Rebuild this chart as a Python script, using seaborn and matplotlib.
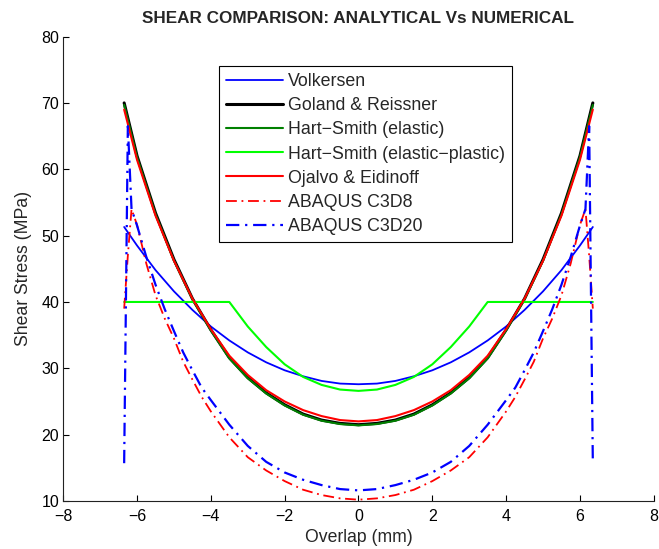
import numpy as np
import pandas as pd
import matplotlib
matplotlib.use("Agg")
import matplotlib.pyplot as plt
import seaborn as sns

# overlap positions (mm) for the analytical solutions
x_analytic = [-6.35, -6.0, -5.5, -5.0, -4.5, -4.0, -3.5, -3.0, -2.5, -2.0, -1.5, -1.0, -0.5,
              0.0, 0.5, 1.0, 1.5, 2.0, 2.5, 3.0, 3.5, 4.0, 4.5, 5.0, 5.5, 6.0, 6.35]

volkersen = [51.3, 48.5, 44.8, 41.6, 38.8, 36.3, 34.2, 32.4, 30.9, 29.7, 28.8, 28.1, 27.7,
             27.6, 27.7, 28.1, 28.8, 29.7, 30.9, 32.4, 34.2, 36.3, 38.8, 41.6, 44.8, 48.5, 51.3]
goland = [70.0, 62.0, 53.4, 46.4, 40.5, 35.8, 31.6, 28.6, 26.3, 24.5, 23.1, 22.2, 21.7,
          21.5, 21.7, 22.2, 23.1, 24.5, 26.3, 28.6, 31.6, 35.8, 40.5, 46.4, 53.4, 62.0, 70.0]
hart_elastic = [69.7, 61.8, 53.2, 46.2, 40.4, 35.7, 31.5, 28.5, 26.2, 24.4, 23.0, 22.1, 21.6,
                21.4, 21.6, 22.1, 23.0, 24.4, 26.2, 28.5, 31.5, 35.7, 40.4, 46.2, 53.2, 61.8, 69.7]
hart_plastic = [40.0, 40.0, 40.0, 40.0, 40.0, 40.0, 40.0, 36.3, 33.2, 30.6, 28.7, 27.5, 26.8,
                26.6, 26.8, 27.5, 28.7, 30.6, 33.2, 36.3, 40.0, 40.0, 40.0, 40.0, 40.0, 40.0, 40.0]
ojalvo = [69.0, 61.4, 53.0, 46.2, 40.5, 35.9, 31.9, 29.0, 26.7, 25.0, 23.7, 22.8, 22.2,
          22.0, 22.2, 22.8, 23.7, 25.0, 26.7, 29.0, 31.9, 35.9, 40.5, 46.2, 53.0, 61.4, 69.0]

# overlap positions (mm) for the FE results
x_fe = [-6.35, -6.25, -6.15, -6.0, -5.75, -5.5, -5.25, -5.0, -4.75, -4.5, -4.25, -4.0, -3.5,
        -3.0, -2.5, -2.0, -1.5, -1.0, -0.5, 0.0, 0.5, 1.0, 1.5, 2.0, 2.5, 3.0, 3.5, 4.0,
        4.25, 4.5, 4.75, 5.0, 5.25, 5.5, 5.75, 6.0, 6.15, 6.25, 6.35]
c3d8 = [39.0, 47.0, 54.0, 51.6, 45.8, 41.0, 37.5, 34.5, 31.0, 28.3, 25.7, 23.5, 19.6,
        16.6, 14.6, 13.0, 11.7, 10.9, 10.4, 10.2, 10.4, 10.9, 11.7, 13.0, 14.6, 16.6, 19.6, 23.5,
        25.7, 28.3, 31.0, 34.5, 37.5, 41.0, 45.8, 51.6, 54.0, 47.0, 39.0]
c3d20 = [15.7, 66.5, 54.0, 51.5, 46.8, 42.6, 38.9, 35.6, 32.4, 29.7, 27.1, 25.2, 21.5,
         18.3, 15.9, 14.3, 13.2, 12.4, 11.8, 11.6, 11.8, 12.4, 13.2, 14.3, 15.9, 18.3, 21.5, 25.2,
         27.1, 29.7, 32.4, 35.6, 38.9, 42.6, 46.8, 51.5, 54.0, 66.5, 15.7]

sns.set_style("ticks", {"xtick.direction": "in", "ytick.direction": "in"})
plt.rcParams["font.family"] = ["Liberation Sans", "DejaVu Sans"]

fig = plt.figure(figsize=(6.59, 5.49), dpi=100)
ax = fig.add_axes([0.096, 0.0874, 0.896, 0.846])

dashdot = (0, (6, 2.6, 1, 2.6))

sns.lineplot(x=x_analytic, y=volkersen, ax=ax, color="#0000ff", lw=1.3, sort=False,
             estimator=None, label="Volkersen")
sns.lineplot(x=x_analytic, y=goland, ax=ax, color="black", lw=2.2, sort=False,
             estimator=None, label="Goland & Reissner")
sns.lineplot(x=x_analytic, y=hart_elastic, ax=ax, color="#008000", lw=1.5, sort=False,
             estimator=None, label="Hart\u2212Smith (elastic)")
sns.lineplot(x=x_analytic, y=hart_plastic, ax=ax, color="#00ff00", lw=1.5, sort=False,
             estimator=None, label="Hart\u2212Smith (elastic\u2212plastic)")
sns.lineplot(x=x_analytic, y=ojalvo, ax=ax, color="#ff0000", lw=1.5, sort=False,
             estimator=None, label="Ojalvo & Eidinoff")
sns.lineplot(x=x_fe, y=c3d8, ax=ax, color="#ff0000", lw=1.3, sort=False,
             estimator=None, linestyle=dashdot, label="ABAQUS C3D8")
sns.lineplot(x=x_fe, y=c3d20, ax=ax, color="#0000ff", lw=1.6, sort=False,
             estimator=None, linestyle=dashdot, label="ABAQUS C3D20")

ax.set_xlim(-8, 8)
ax.set_ylim(10, 80)
ax.set_xticks(np.arange(-8, 9, 2))
ax.set_yticks(np.arange(10, 81, 10))
ax.tick_params(axis="both", labelsize=11.5, length=4, width=0.8, colors="black")
ax.tick_params(axis="x", pad=6)
ax.tick_params(axis="y", pad=3)
sns.despine(ax=ax)
for side in ["left", "bottom"]:
    ax.spines[side].set_color("#222222")
    ax.spines[side].set_linewidth(0.8)

ax.set_xlabel("Overlap (mm)", fontsize=12.7, labelpad=3)
ax.set_ylabel("Shear Stress (MPa)", fontsize=12.7, labelpad=7)
ax.set_title("SHEAR COMPARISON: ANALYTICAL Vs NUMERICAL", fontsize=12.3,
             fontweight="bold", pad=10)

leg = ax.legend(loc="upper center", bbox_to_anchor=(0.512, 0.9365), fontsize=12.8,
                frameon=True, fancybox=False, framealpha=1, edgecolor="black",
                labelspacing=0.4, handlelength=3.2, handletextpad=0.3, borderpad=0.4,
                borderaxespad=0)
leg.get_frame().set_linewidth(0.8)

fig.savefig("out.png", dpi=100)
